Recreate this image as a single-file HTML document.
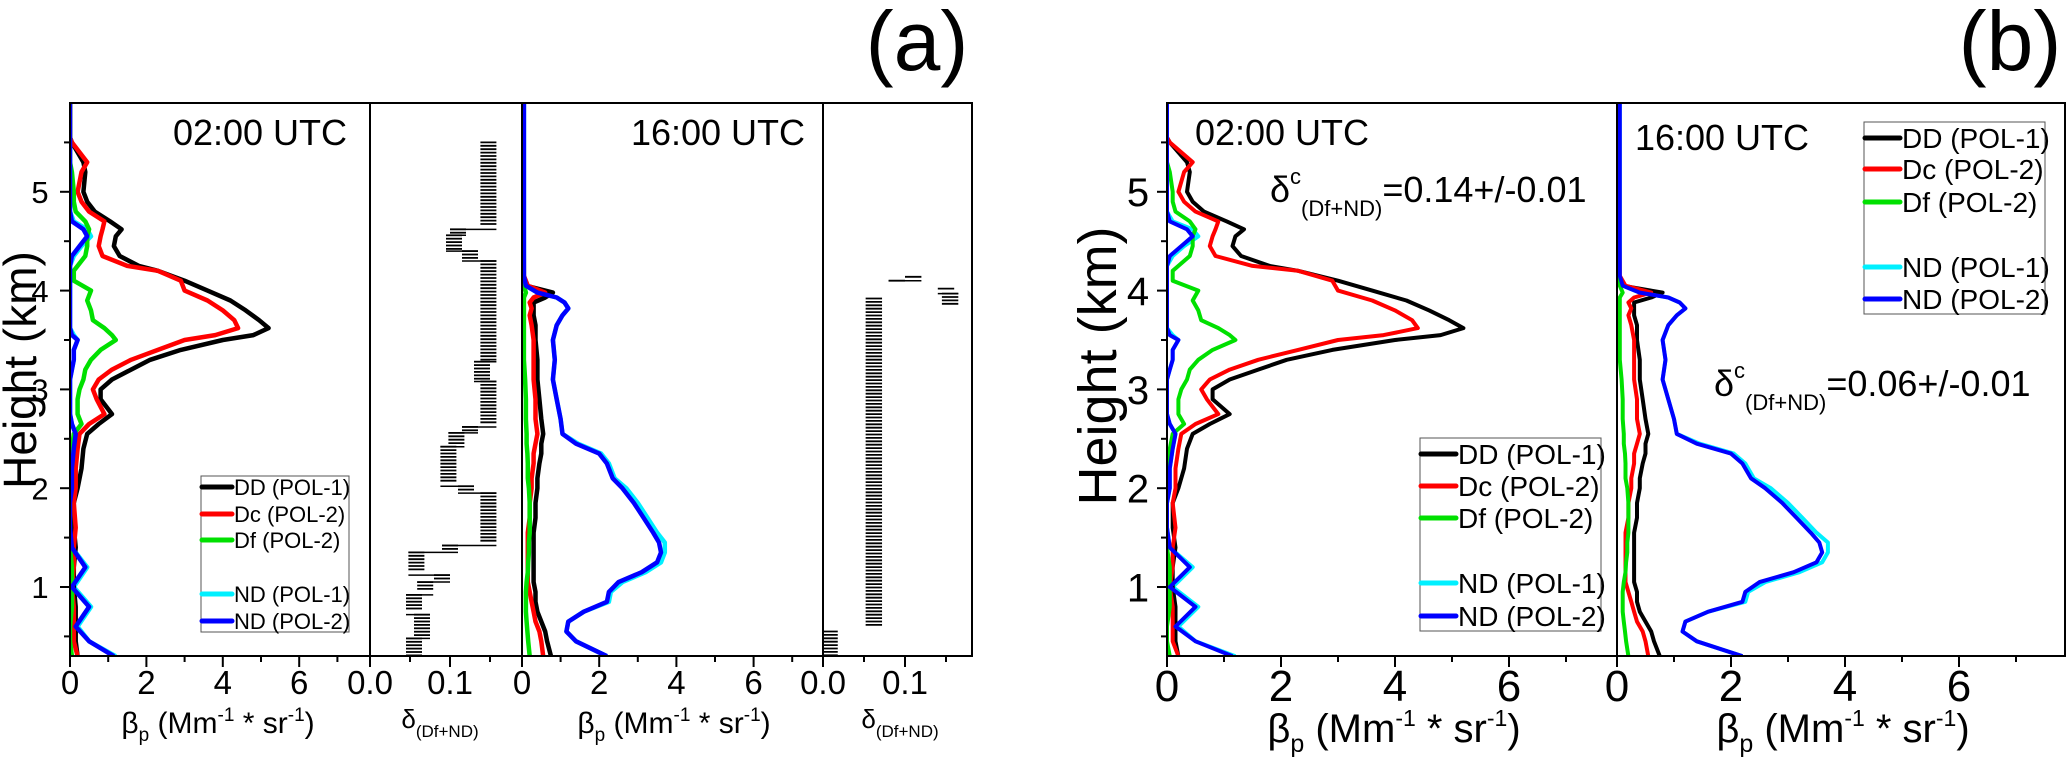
<!DOCTYPE html>
<html><head><meta charset="utf-8">
<style>
html,body{margin:0;padding:0;background:#fff;}
svg{display:block;font-family:"Liberation Sans",sans-serif;}
</style></head>
<body>
<svg id="chart" width="2067" height="764" viewBox="0 0 2067 764" xmlns="http://www.w3.org/2000/svg">
<g id="marks"></g>
<g id="frames"></g>
<g id="labels"></g>
</svg>
<script>
// ---------- data ----------
const heights02 = [5.9,5.55,5.5,5.3,5.2,5.0,4.9,4.8,4.7,4.62,4.55,4.45,4.35,4.25,4.2,4.1,4.0,3.9,3.8,3.7,3.62,3.55,3.5,3.4,3.3,3.2,3.1,3.0,2.9,2.75,2.65,2.55,2.4,2.2,2.0,1.85,1.6,1.4,1.2,1.0,0.8,0.6,0.45,0.3];
const dd02 = [0,0,0.05,0.35,0.4,0.35,0.45,0.65,1.05,1.35,1.2,1.15,1.3,1.8,2.3,3.0,3.6,4.2,4.6,4.95,5.2,4.8,4.0,2.9,2.1,1.6,1.1,0.8,0.8,1.1,0.75,0.45,0.35,0.3,0.2,0.1,0.1,0.15,0.1,0.1,0.15,0.15,0.15,0.2];
const dc02 = [0,0,0.05,0.45,0.3,0.2,0.3,0.5,0.9,0.85,0.8,0.75,0.85,1.5,2.3,2.9,3.0,3.6,4.0,4.3,4.4,3.8,3.0,2.3,1.6,1.1,0.75,0.6,0.7,0.9,0.5,0.25,0.2,0.15,0.15,0.1,0.15,0.1,0.1,0.05,0.1,0.1,0.1,0.2];
const df02 = [0,0,0,0,0.05,0.1,0.1,0.15,0.4,0.5,0.45,0.45,0.4,0.2,0.1,0.1,0.55,0.45,0.55,0.6,0.9,1.1,1.2,0.8,0.55,0.4,0.35,0.25,0.2,0.2,0.3,0.1,0.05,0,0,0,0,0,0.05,0.05,0.05,0,0,0.05];
const ndp1_02 = [0,0,0,0,0,0,0,0,0.1,0.45,0.55,0.3,0.1,0,0,0,0,0,0,0,0,0.1,0.2,0.1,0.1,0.05,0,0,0,0,0.05,0.15,0.1,0.05,0.05,0,0,0.05,0.45,0.1,0.55,0.2,0.5,1.2];
const ndp2_02 = [0,0,0,0,0,0,0,0,0.05,0.35,0.45,0.25,0.05,0,0,0,0,0,0,0,0,0.05,0.2,0.1,0.1,0.05,0,0,0,0,0.05,0.15,0.1,0.05,0.05,0,0,0.05,0.4,0.05,0.5,0.15,0.5,1.15];

const heights16 = [5.9,4.15,4.05,3.98,3.93,3.88,3.82,3.75,3.65,3.5,3.3,3.1,2.9,2.7,2.55,2.45,2.35,2.25,2.1,2.0,1.85,1.7,1.55,1.45,1.35,1.25,1.15,1.05,0.95,0.85,0.75,0.65,0.55,0.45,0.3];
const dd16 = [0.02,0.02,0.1,0.8,0.6,0.3,0.3,0.3,0.35,0.35,0.4,0.4,0.45,0.5,0.55,0.5,0.5,0.45,0.4,0.4,0.35,0.35,0.3,0.3,0.3,0.3,0.3,0.3,0.35,0.35,0.4,0.5,0.6,0.65,0.75];
const dc16 = [0.02,0.05,0.15,0.6,0.3,0.2,0.25,0.2,0.25,0.3,0.3,0.3,0.35,0.35,0.4,0.35,0.3,0.3,0.25,0.25,0.2,0.2,0.15,0.15,0.15,0.15,0.15,0.15,0.2,0.25,0.3,0.35,0.45,0.5,0.55];
const df16 = [0,0,0.05,0.1,0.05,0.05,0.05,0.05,0.05,0.05,0.05,0.08,0.1,0.1,0.12,0.12,0.14,0.15,0.15,0.18,0.2,0.2,0.2,0.18,0.18,0.16,0.15,0.12,0.1,0.1,0.1,0.12,0.14,0.16,0.2];
const ndp1_16 = [0.05,0.05,0.1,0.4,0.9,1.1,1.2,1.05,0.9,0.8,0.85,0.8,0.9,1.0,1.05,1.45,2.05,2.25,2.4,2.7,3.0,3.25,3.5,3.7,3.7,3.6,3.2,2.6,2.3,2.25,1.6,1.2,1.15,1.4,2.2];
const ndp2_16 = [0.05,0.05,0.1,0.4,0.9,1.1,1.2,1.05,0.9,0.8,0.85,0.8,0.9,1.0,1.05,1.4,2.0,2.2,2.35,2.6,2.9,3.15,3.4,3.55,3.6,3.5,3.1,2.5,2.25,2.2,1.6,1.2,1.15,1.4,2.2];

// depolarization segments: top height, bottom height, value
const delta02Top = [5.5,4.62,4.56,4.4,4.3,3.28,3.08,2.62,2.56,2.42,2.02,1.95,1.42,1.35,1.12,1.05,0.92,0.72,0.48];
const delta02Bot = [4.65,4.58,4.42,4.33,3.3,3.1,2.65,2.58,2.45,2.05,1.98,1.45,1.38,1.15,1.08,0.95,0.75,0.5,0.3];
const delta02Val = [0.148,0.11,0.105,0.125,0.148,0.14,0.148,0.125,0.108,0.098,0.12,0.148,0.1,0.058,0.09,0.069,0.055,0.065,0.055];
const delta16Top = [4.14,4.1,4.02,3.97,3.92,0.55];
const delta16Bot = [4.12,4.07,3.99,3.85,0.6,0.3];
const delta16Val = [0.11,0.09,0.15,0.155,0.062,0.008];
const deltaErr = 0.01;

const betaTicks = ["0","2","4","6"];
const betaTickVals = [0,2,4,6];
const deltaTicks = ["0.0","0.1"];
const deltaTickVals = [0,0.1];
const heightTicks = ["1","2","3","4","5"];
const heightTickVals = [1,2,3,4,5];

// ---------- layout ----------
const NS = "http://www.w3.org/2000/svg";
const marks = document.getElementById('marks');
const frames = document.getElementById('frames');
const labels = document.getElementById('labels');
const TOP = 103, BOT = 656;
function yS(h){ return 587 - (h-1)*98.8; }
function mk(tag, attrs, parent){
  const e = document.createElementNS(NS, tag);
  for (const k in attrs) e.setAttribute(k, attrs[k]);
  parent.appendChild(e); return e;
}
const clipDefs = mk('defs', {}, document.getElementById('chart'));

const panels = [
  {name:'a-0200-beta', kind:'beta', x0:70, x1:370, zero:70, ppu:38.2, set:'02', fs:33},
  {name:'a-0200-delta', kind:'delta', x0:370, x1:522, zero:370, ppu:800, set:'02', fs:33},
  {name:'a-1600-beta', kind:'beta', x0:522, x1:823, zero:522, ppu:38.6, set:'16', fs:33},
  {name:'a-1600-delta', kind:'delta', x0:823, x1:972, zero:823, ppu:820, set:'16', fs:33},
  {name:'b-0200-beta', kind:'beta', x0:1167, x1:1617, zero:1167, ppu:57, set:'02', fs:44, lw:4},
  {name:'b-1600-beta', kind:'beta', x0:1617, x1:2065, zero:1617, ppu:57, set:'16', fs:44, lw:4}
];

panels.forEach((p, pi) => {
  const xs = v => p.zero + v*p.ppu;
  const cid = 'clip'+pi;
  const cp = mk('clipPath', {id:cid}, clipDefs);
  mk('rect', {x:p.x0, y:TOP, width:p.x1-p.x0, height:BOT-TOP}, cp);
  const g = mk('g', {'clip-path':'url(#'+cid+')'}, marks);
  
  
  if (p.kind === 'beta') {
    const H = p.set === '02' ? heights02 : heights16;
    const series = p.set === '02'
      ? [[ndp1_02,'#00f0ff','nd-pol1'],[dd02,'#000','dd-pol1'],[dc02,'#f00','dc-pol2'],[df02,'#00e000','df-pol2'],[ndp2_02,'#0000ff','nd-pol2']]
      : [[ndp1_16,'#00f0ff','nd-pol1'],[dd16,'#000','dd-pol1'],[dc16,'#f00','dc-pol2'],[df16,'#00e000','df-pol2'],[ndp2_16,'#0000ff','nd-pol2']];
    series.forEach(s => {
      const pts = H.map((h,i) => xs(s[0][i]).toFixed(1)+','+yS(h).toFixed(1)).join(' ');
      const pl = mk('polyline', {points:pts, fill:'none', stroke:s[1], 'stroke-width':p.lw||4.5, 'stroke-linejoin':'round'}, g);
      
      
    });
  } else {
    const T = p.set==='02'?delta02Top:delta16Top, B = p.set==='02'?delta02Bot:delta16Bot, V = p.set==='02'?delta02Val:delta16Val;
    let prev = null;
    T.forEach((t,i) => {
      const v = V[i];
      if (prev !== null && Math.abs(T[i] - B[i-1]) < 0.035) {
        const c = mk('line', {x1:xs(Math.min(prev,v)-deltaErr), x2:xs(Math.max(prev,v)+deltaErr), y1:yS(t), y2:yS(t), stroke:'#000', 'stroke-width':1.5}, g);
        
        
      }
      for (let yy = yS(t); yy <= yS(B[i]) + 0.1; yy += 3.4) {
        const l = mk('line', {x1:xs(v-deltaErr), x2:xs(v+deltaErr), y1:yy.toFixed(1), y2:yy.toFixed(1), stroke:'#000', 'stroke-width':1.8}, g);
        
        
      }
      prev = v;
    });
  }
  const fr = mk('rect', {x:p.x0, y:TOP, width:p.x1-p.x0, height:BOT-TOP, fill:'none', stroke:'#000', 'stroke-width':2}, frames);
  
  
  const tv = p.kind==='beta'?betaTickVals:deltaTickVals, tl = p.kind==='beta'?betaTicks:deltaTicks;
  const minorStep = p.kind==='beta'?1:0.05;
  for (let v = 0; xs(v) <= p.x1 - 2; v += minorStep) {
    const major = p.kind==='beta' ? (Math.round(v)%2===0) : (Math.abs(v*10 - Math.round(v*10))<0.01);
    const t = mk('line', {x1:xs(v), x2:xs(v), y1:BOT, y2:BOT+(major?11:6), stroke:'#000', 'stroke-width':2}, frames);
    
    
  }
  tv.forEach((v,i) => {
    const tx = mk('text', {x:xs(v), y:BOT + (p.fs>40?45:38), 'font-size':p.fs, 'text-anchor':'middle'}, labels);
    tx.textContent = tl[i];
    
    
  });
});

[[70,31,40],[1167,40,1138]].forEach((ax, ai) => {
  for (let h = 0.5; h <= 5.5; h += 0.5) {
    const major = Math.abs(h - Math.round(h)) < 0.01;
    const t = mk('line', {x1:ax[0]-(major?10:6), x2:ax[0], y1:yS(h), y2:yS(h), stroke:'#000', 'stroke-width':2}, frames);
    
    
  }
  heightTickVals.forEach((h,i) => {
    const tx = mk('text', {x:ax[2], y:yS(h)+ax[1]*0.36, 'font-size':ax[1], 'text-anchor':'middle'}, labels);
    tx.textContent = heightTicks[i];
    
    
  });
});
</script>
<script>
const L = document.getElementById('labels');
L.insertAdjacentHTML('beforeend', `
<text x="917" y="70" font-size="84" text-anchor="middle">(a)</text>
<text x="2010" y="70" font-size="84" text-anchor="middle">(b)</text>
<text transform="translate(36,370) rotate(-90)" font-size="46" text-anchor="middle">Height (km)</text>
<text transform="translate(1116,366) rotate(-90)" font-size="54" text-anchor="middle">Height (km)</text>
<text x="260" y="145" font-size="36" text-anchor="middle">02:00 UTC</text>
<text x="718" y="145" font-size="36" text-anchor="middle">16:00 UTC</text>
<text x="1282" y="145" font-size="36" text-anchor="middle">02:00 UTC</text>
<text x="1722" y="150" font-size="36" text-anchor="middle">16:00 UTC</text>
<text x="1270" y="202" font-size="36">δ<tspan font-size="22" dy="-18">c</tspan><tspan font-size="22" dy="32">(Df+ND)</tspan><tspan dy="-14">=0.14+/-0.01</tspan></text>
<text x="1714" y="396" font-size="36">δ<tspan font-size="22" dy="-18">c</tspan><tspan font-size="22" dy="32">(Df+ND)</tspan><tspan dy="-14">=0.06+/-0.01</tspan></text>
<text x="218" y="733" font-size="30" text-anchor="middle">β<tspan font-size="19" dy="8">p</tspan><tspan dy="-8"> (Mm</tspan><tspan font-size="19" dy="-12">-1</tspan><tspan dy="12"> * sr</tspan><tspan font-size="19" dy="-12">-1</tspan><tspan dy="12">)</tspan></text>
<text x="674" y="733" font-size="30" text-anchor="middle">β<tspan font-size="19" dy="8">p</tspan><tspan dy="-8"> (Mm</tspan><tspan font-size="19" dy="-12">-1</tspan><tspan dy="12"> * sr</tspan><tspan font-size="19" dy="-12">-1</tspan><tspan dy="12">)</tspan></text>
<text x="440" y="728" font-size="26" text-anchor="middle">δ<tspan font-size="17" dy="9">(Df+ND)</tspan></text>
<text x="900" y="728" font-size="26" text-anchor="middle">δ<tspan font-size="17" dy="9">(Df+ND)</tspan></text>
<text x="1394" y="742" font-size="40" text-anchor="middle">β<tspan font-size="25" dy="10">p</tspan><tspan dy="-10"> (Mm</tspan><tspan font-size="23" dy="-16">-1</tspan><tspan dy="16"> * sr</tspan><tspan font-size="23" dy="-16">-1</tspan><tspan dy="16">)</tspan></text>
<text x="1843" y="742" font-size="40" text-anchor="middle">β<tspan font-size="25" dy="10">p</tspan><tspan dy="-10"> (Mm</tspan><tspan font-size="23" dy="-16">-1</tspan><tspan dy="16"> * sr</tspan><tspan font-size="23" dy="-16">-1</tspan><tspan dy="16">)</tspan></text>
`);
const legends = [
  {name:'legend-a', x:201, y:476, w:148, h:156, ys:[487,514,540,594,621], fs:22, seg:31},
  {name:'legend-b-0200', x:1420, y:438, w:181, h:193, ys:[454,486,518,583,616], fs:28, seg:36},
  {name:'legend-b-1600', x:1864, y:122, w:181, h:192, ys:[138,169,202,267,299], fs:28, seg:36}
];
const legendNames = ['DD (POL-1)','Dc (POL-2)','Df (POL-2)','ND (POL-1)','ND (POL-2)'];
const legendColors = ['#000','#f00','#00e000','#00f0ff','#0000ff'];
const NS2 = "http://www.w3.org/2000/svg";
legends.forEach(lg => {
  const g = document.createElementNS(NS2,'g');
  
  
  L.appendChild(g);
  const r = document.createElementNS(NS2,'rect');
  r.setAttribute('x', lg.x); r.setAttribute('y', lg.y); r.setAttribute('width', lg.w); r.setAttribute('height', lg.h);
  r.setAttribute('fill','#fff'); r.setAttribute('stroke','#555'); r.setAttribute('stroke-width','1');
  
  
  g.appendChild(r);
  legendNames.forEach((n,i) => {
    const ln = document.createElementNS(NS2,'line');
    ln.setAttribute('x1', lg.x+1); ln.setAttribute('x2', lg.x+lg.seg); ln.setAttribute('y1', lg.ys[i]); ln.setAttribute('y2', lg.ys[i]);
    ln.setAttribute('stroke', legendColors[i]); ln.setAttribute('stroke-width', 5); ln.setAttribute('stroke-linecap','round');
    
    
    g.appendChild(ln);
    const t = document.createElementNS(NS2,'text');
    t.setAttribute('x', lg.x+lg.seg+2); t.setAttribute('y', lg.ys[i]+lg.fs*0.36); t.setAttribute('font-size', lg.fs);
    t.textContent = n;
    
    
    g.appendChild(t);
  });
});
</script>
</body></html>
